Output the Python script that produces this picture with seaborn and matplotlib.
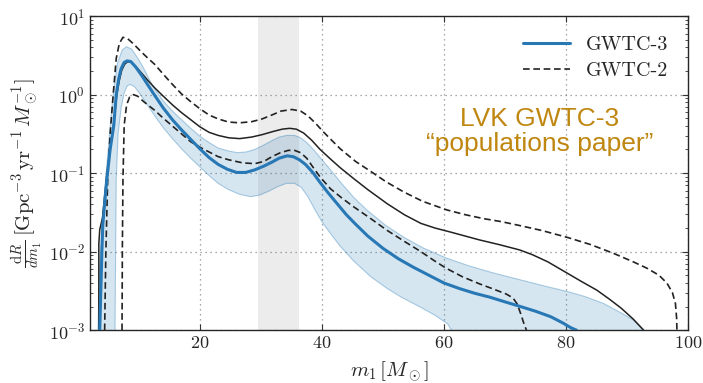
import matplotlib
matplotlib.use("Agg")
import matplotlib.pyplot as plt
import seaborn as sns
from matplotlib.ticker import FuncFormatter, LogLocator
from matplotlib.lines import Line2D

# ---------------- data ----------------
# GWTC-3 median
g3_med_x = [3.6, 3.95, 4.1, 4.5, 4.83, 5.3, 5.9, 6.3, 6.7, 7.1, 7.6, 8.1, 8.7, 9.5, 10.5, 11.5,
            12.6, 14, 15.5, 17, 18.5, 20, 21.5, 23, 24.5, 26, 27.5, 29, 30.5, 31.8, 33, 34.3,
            35.3, 36.3, 37.3, 38.5, 39.7, 41, 42.5, 44, 45.5, 47.5, 50, 52.5, 55, 57.5, 60,
            62.5, 65, 67.5, 70, 72.5, 75, 77.5, 79.5, 80.8, 81.7]
g3_med_y = [0.001, 0.01, 0.0219, 0.0501, 0.0933, 0.200, 0.407, 1.00, 1.58, 2.14, 2.57, 2.69,
            2.63, 2.24, 1.74, 1.32, 0.977, 0.676, 0.479, 0.355, 0.269, 0.204, 0.158, 0.129,
            0.112, 0.102, 0.102, 0.110, 0.123, 0.138, 0.155, 0.166, 0.162, 0.148, 0.129, 0.102,
            0.0759, 0.0562, 0.0407, 0.0295, 0.0224, 0.0158, 0.0110, 0.00813, 0.00631, 0.00501,
            0.00398, 0.00339, 0.00295, 0.00263, 0.00229, 0.00200, 0.00174, 0.00148, 0.00123,
            0.00107, 0.001]

# GWTC-3 90% band
g3_hi_x = [3.3, 3.6, 4.0, 4.6, 5.2, 5.8, 6.5, 7.3, 8.0, 8.8, 9.7, 10.7, 11.6, 12.6, 14, 15.5,
           17, 18.5, 20, 21.5, 23, 24.7, 26.2, 27.6, 29, 30.3, 31.7, 33, 34.2, 35.5, 36.5, 37.5,
           38.6, 39.7, 41.4, 43.2, 45.2, 47.5, 50.5, 53.5, 56.5, 60.3, 64, 68, 72, 76, 80.3,
           83, 86.1, 89, 91, 92.6]
g3_hi_y = [0.001, 0.00631, 0.0251, 0.0891, 0.316, 1.0, 2.51, 3.72, 4.07, 3.80, 3.02, 2.24, 1.62,
           1.17, 0.832, 0.617, 0.479, 0.372, 0.295, 0.245, 0.209, 0.191, 0.182, 0.186, 0.200,
           0.224, 0.257, 0.288, 0.302, 0.302, 0.282, 0.245, 0.200, 0.158, 0.110, 0.0741,
           0.0490, 0.0331, 0.0214, 0.0151, 0.0112, 0.00832, 0.00661, 0.00537, 0.00447,
           0.00372, 0.00309, 0.00269, 0.00219, 0.00166, 0.00135, 0.001]
g3_lo_x = [6.1, 6.2, 6.3, 6.6, 7.1, 7.6, 8.1, 8.6, 9.3, 10.2, 11.3, 12.6, 14, 15.5, 17, 18.5, 20,
           21.5, 23, 24.7, 26.5, 28.3, 29.8, 31.3, 32.8, 34.2, 35.5, 36.6, 37.7, 38.8, 40,
           41.4, 43, 45.2, 48, 50.7, 53, 56.2, 58.5, 60.6, 61.2]
g3_lo_y = [0.001, 0.01, 0.0813, 0.316, 0.676, 1.05, 1.29, 1.35, 1.26, 1.02, 0.759, 0.537, 0.380,
           0.275, 0.204, 0.155, 0.120, 0.0933, 0.0741, 0.0617, 0.0537, 0.0501, 0.0525,
           0.0589, 0.0676, 0.0741, 0.0741, 0.0661, 0.0501, 0.0347, 0.0240, 0.0170, 0.0117,
           0.00759, 0.00479, 0.00339, 0.00263, 0.00195, 0.00155, 0.00120, 0.001]

# GWTC-2 median
g2_med_x = [3.45, 3.45, 3.6, 4.05, 4.4, 4.75, 5.3, 5.9, 6.4, 6.8, 7.2, 7.7, 8.2, 8.8, 9.5, 10.5,
            11.5, 12.6, 14, 15.5, 17, 18.5, 20, 21.5, 23, 24.7, 26.5, 28.5, 30.2, 32, 33.5, 34.7,
            35.8, 37, 38.3, 39.7, 41.4, 43, 45.2, 47.5, 50.7, 53.5, 56.2, 58.5, 61, 65.8, 69,
            72.4, 74.5, 77, 80.3, 82.5, 85, 87, 89, 91, 92.7]
g2_med_y = [0.001, 0.0126, 0.0191, 0.0269, 0.0501, 0.0933, 0.209, 0.437, 1.0, 1.51, 2.04, 2.45,
            2.63, 2.57, 2.29, 1.86, 1.51, 1.22, 0.955, 0.741, 0.589, 0.479, 0.389, 0.331, 0.302,
            0.282, 0.275, 0.288, 0.309, 0.339, 0.363, 0.372, 0.363, 0.324, 0.263, 0.200, 0.151,
            0.117, 0.0851, 0.0617, 0.0407, 0.0295, 0.0229, 0.0200, 0.0178, 0.0141, 0.0123,
            0.0105, 0.00912, 0.00741, 0.00525, 0.00417, 0.00324, 0.00251, 0.00191, 0.00138,
            0.001]

# GWTC-2 90% bounds
g2_hi_x = [4.4, 4.6, 4.9, 5.3, 5.8, 6.3, 6.8, 7.4, 8.2, 9.2, 10.2, 11.4, 12.6, 14, 15.5, 17,
           18.5, 20, 21.5, 23, 24.7, 26.5, 28.5, 30.2, 31.8, 33.3, 35.1, 36.5, 37.7, 39, 40.3,
           41.7, 43, 45.5, 48, 50.5, 53.4, 56.5, 60.5, 63.5, 66.5, 69.5, 72.5, 76, 80.3, 84,
           87.7, 91, 93.2, 95.2, 96.5, 97.4, 97.9, 98.1, 98.15]
g2_hi_y = [0.001, 0.01, 0.0813, 0.316, 1.0, 2.88, 4.47, 5.37, 5.13, 4.37, 3.63, 2.95, 2.43, 1.82,
           1.35, 1.02, 0.813, 0.661, 0.550, 0.490, 0.447, 0.437, 0.452, 0.490, 0.550, 0.617,
           0.646, 0.617, 0.537, 0.427, 0.331, 0.257, 0.204, 0.141, 0.105, 0.0776, 0.0575,
           0.0437, 0.0339, 0.0295, 0.0263, 0.0240, 0.0214, 0.0186, 0.0151, 0.0123, 0.00955,
           0.00741, 0.00617, 0.00501, 0.00398, 0.00302, 0.00219, 0.00141, 0.001]
g2_lo_x = [7.25, 7.3, 7.4, 7.6, 8.0, 8.5, 9.1, 9.8, 10.8, 12.6, 14, 15.5, 17, 18.5, 20, 21.5, 23,
           24.7, 27, 29, 30.5, 31.8, 33.2, 34.5, 35.5, 36.5, 37.5, 38.6, 39.7, 41.4, 43.3, 45.2,
           48, 50.7, 53.5, 56.2, 58.3, 60.3, 63, 65.8, 68.2, 70.2, 71.3, 72.0, 72.6, 73.1, 73.5]
g2_lo_y = [0.001, 0.01, 0.0813, 0.407, 0.741, 0.933, 1.0, 0.955, 0.813, 0.631, 0.501, 0.398,
           0.316, 0.251, 0.214, 0.186, 0.162, 0.148, 0.135, 0.132, 0.141, 0.162, 0.182, 0.195,
           0.195, 0.182, 0.155, 0.117, 0.0891, 0.0631, 0.0479, 0.0372, 0.0263, 0.0186,
           0.0135, 0.01, 0.00776, 0.00617, 0.00479, 0.00389, 0.00331, 0.00288, 0.00257,
           0.00214, 0.00158, 0.00120, 0.001]

gap_lo, gap_hi = 29.5, 36.3
x_ticks = [20, 40, 60, 80, 100]
legend_labels = ["GWTC-3", "GWTC-2"]
note_text = "LVK GWTC-3\n\u201cpopulations paper\u201d"

# ---------------- style ----------------
sns.set_style("ticks")
plt.rcParams["font.family"] = ["cmr10", "DejaVu Serif"]
plt.rcParams["mathtext.fontset"] = "cm"
plt.rcParams["axes.unicode_minus"] = False
plt.rcParams["axes.formatter.use_mathtext"] = True
plt.rcParams["lines.solid_joinstyle"] = "round"
plt.rcParams["lines.dash_joinstyle"] = "round"

BLUE = "#2878b5"
BAND = "#1f77b4"
DARK = "#222222"
DASH = (0, (4, 2.2))

fig = plt.figure(figsize=(7.03, 3.83), dpi=100)
ax = fig.add_axes([0.128, 0.138, 0.851, 0.820])

ax.axvspan(gap_lo, gap_hi, color="0.925", lw=0, zorder=0)

# GWTC-3 band
band_x = g3_hi_x + g3_lo_x[::-1]
band_y = g3_hi_y + g3_lo_y[::-1]
ax.fill(band_x, band_y, facecolor=BAND, alpha=0.18, lw=0, zorder=1)
for bx, by in ((g3_hi_x, g3_hi_y), (g3_lo_x, g3_lo_y)):
    sns.lineplot(x=bx, y=by, ax=ax, color=BAND, alpha=0.35, lw=0.8,
                 estimator=None, sort=False, zorder=2)

# GWTC-2
sns.lineplot(x=g2_med_x, y=g2_med_y, ax=ax, color=DARK, lw=1.1,
             estimator=None, sort=False, zorder=3)
for bx, by in ((g2_hi_x, g2_hi_y), (g2_lo_x, g2_lo_y)):
    sns.lineplot(x=bx, y=by, ax=ax, color=DARK, lw=1.2, ls=DASH,
                 estimator=None, sort=False, zorder=3)

# GWTC-3 median
sns.lineplot(x=g3_med_x, y=g3_med_y, ax=ax, color=BLUE, lw=2.2,
             estimator=None, sort=False, zorder=4)

ax.set_yscale("log")
ax.set_xlim(2, 100)
ax.set_ylim(1e-3, 1e1)
ax.set_xticks(x_ticks)
ax.xaxis.set_major_formatter(FuncFormatter(lambda v, p: f"${v:g}$"))
ax.yaxis.set_major_locator(LogLocator(base=10, numticks=10))
ax.yaxis.set_minor_locator(LogLocator(base=10, subs=range(2, 10), numticks=10))

ax.grid(True, which="major", ls=(0, (1, 3)), color="0.55", lw=0.9, zorder=0.5)
ax.tick_params(which="both", direction="in", top=True, right=True, labelsize=13,
               color="0.2")
ax.tick_params(which="major", length=4)
ax.tick_params(which="minor", length=2)
for s in ax.spines.values():
    s.set_color("0.15")
    s.set_linewidth(1.0)

ax.set_xlabel(r"$m_1\,[M_\odot]$", fontsize=15, labelpad=6)
ax.set_ylabel(r"$\frac{\mathrm{d}R}{dm_1}\,[\mathrm{Gpc}^{-3}\,\mathrm{yr}^{-1}\,M_\odot^{-1}]$",
              fontsize=15, labelpad=3)

handles = [Line2D([], [], color=BLUE, lw=2.2),
           Line2D([], [], color=DARK, lw=1.2, ls=DASH)]
ax.legend(handles, legend_labels, loc="upper right", frameon=False, fontsize=14.5,
          handlelength=2.3, labelspacing=0.4, borderaxespad=0.6)

ax.text(0.752, 0.634, note_text, transform=ax.transAxes, ha="center", va="center",
        fontsize=19, color="#bf8710", family=["Liberation Sans", "DejaVu Sans"],
        linespacing=1.05, zorder=6)

fig.savefig("out.png", dpi=100)
